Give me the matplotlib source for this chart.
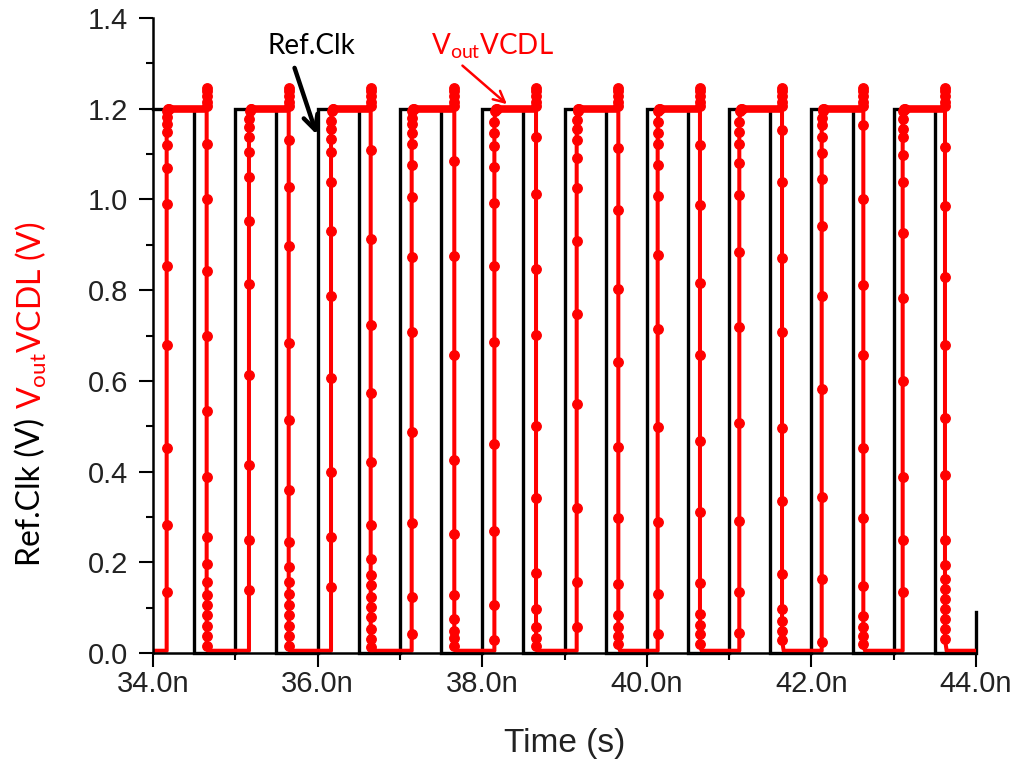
import matplotlib
matplotlib.use('Agg')
import matplotlib.pyplot as plt
from matplotlib.ticker import MultipleLocator, FuncFormatter

# ---------------- data ----------------
# Ref.Clk square wave (ns, V)
clk_fall = [34.5, 35.5, 36.5, 37.5, 38.5, 39.5, 40.5, 41.5, 42.5, 43.5]
clk_rise = [35.0, 36.0, 37.0, 38.0, 39.0, 40.0, 41.0, 42.0, 43.0, 44.0]
clk_high = 1.2
clk_last_level = 0.09     # partial rise visible at 44.0n

# VCDL output: edge times (ns)
red_rise = [34.166, 35.166, 36.163, 37.143, 38.148, 39.148, 40.132, 41.124, 42.125, 43.109]
red_fall = [34.652, 35.649, 36.645, 37.661, 38.654, 39.654, 40.646, 41.643, 42.631, 43.623]
red_high = 1.2
red_low = 0.005
overshoot = [1.205, 1.215, 1.228, 1.238, 1.245]

# sampled points along each rising edge (V)
rise_samples = [
    [0.134, 0.282, 0.451, 0.680, 0.853, 0.990, 1.069, 1.119, 1.148, 1.167, 1.182],
    [0.138, 0.249, 0.415, 0.614, 0.813, 0.953, 1.049, 1.104, 1.137, 1.160, 1.178],
    [0.145, 0.256, 0.400, 0.606, 0.787, 0.931, 1.038, 1.104, 1.134, 1.156, 1.174],
    [0.041, 0.123, 0.287, 0.487, 0.708, 0.872, 1.006, 1.077, 1.122, 1.147, 1.167, 1.180],
    [0.029, 0.106, 0.270, 0.461, 0.686, 0.854, 0.993, 1.071, 1.118, 1.147, 1.171],
    [0.057, 0.156, 0.319, 0.549, 0.747, 0.909, 1.025, 1.091, 1.130, 1.155, 1.175],
    [0.041, 0.129, 0.289, 0.498, 0.714, 0.878, 1.007, 1.077, 1.122, 1.147, 1.171],
    [0.043, 0.135, 0.292, 0.508, 0.718, 0.883, 1.009, 1.080, 1.122, 1.149, 1.171],
    [0.025, 0.164, 0.344, 0.583, 0.786, 0.942, 1.044, 1.102, 1.138, 1.163, 1.179],
    [0.134, 0.249, 0.389, 0.599, 0.783, 0.927, 1.038, 1.097, 1.137, 1.156, 1.178],
]
# sampled points along each falling edge (V)
fall_samples = [
    [1.122, 1.001, 0.842, 0.698, 0.533, 0.389, 0.256, 0.197, 0.156, 0.127, 0.105, 0.083, 0.060, 0.038, 0.016],
    [1.130, 1.027, 0.898, 0.684, 0.514, 0.359, 0.245, 0.190, 0.156, 0.131, 0.105, 0.083, 0.060, 0.038, 0.016],
    [1.108, 0.912, 0.724, 0.573, 0.422, 0.282, 0.208, 0.171, 0.149, 0.123, 0.101, 0.079, 0.053, 0.031, 0.013],
    [1.085, 0.875, 0.657, 0.426, 0.262, 0.127, 0.074, 0.049, 0.033, 0.016],
    [1.137, 1.013, 0.846, 0.702, 0.500, 0.342, 0.176, 0.098, 0.057, 0.033, 0.016],
    [1.114, 0.977, 0.803, 0.641, 0.455, 0.297, 0.152, 0.084, 0.057, 0.037, 0.020],
    [1.120, 0.987, 0.815, 0.657, 0.467, 0.310, 0.154, 0.086, 0.061, 0.041, 0.020],
    [1.152, 1.038, 0.871, 0.708, 0.496, 0.336, 0.174, 0.097, 0.070, 0.049, 0.029],
    [1.165, 1.002, 0.811, 0.657, 0.452, 0.297, 0.147, 0.082, 0.057, 0.037, 0.020],
    [1.115, 0.986, 0.828, 0.680, 0.518, 0.392, 0.249, 0.193, 0.164, 0.142, 0.119, 0.097, 0.075, 0.053, 0.031],
]

x_ticks = [34.0, 36.0, 38.0, 40.0, 42.0, 44.0]
y_ticks = [0.0, 0.2, 0.4, 0.6, 0.8, 1.0, 1.2, 1.4]

# ---------------- figure ----------------
W, H = 1023, 763
plt.rcParams['mathtext.fontset'] = 'custom'
plt.rcParams['mathtext.rm'] = 'Lato'
plt.rcParams['mathtext.it'] = 'Lato:italic'

fig = plt.figure(figsize=(W / 100, H / 100), dpi=100)
ax = fig.add_axes([153 / W, 1 - 653 / H, (976 - 153) / W, (653 - 18) / H])

# black clock
cx, cy = [34.0], [clk_high]
for f, r in zip(clk_fall, clk_rise):
    cx += [f, f, r]
    cy += [clk_high, 0.0, 0.0]
    if r < 44.0:
        cx += [r]
        cy += [clk_high]
cx += [clk_rise[-1]]
cy += [clk_last_level]
ax.plot(cx, cy, color='black', lw=2.4, solid_joinstyle='miter', zorder=2, clip_on=False)

# red VCDL output
red = '#ff0000'
rx, ry = [34.0], [red_low]
mx, my = [], []
for i in range(len(red_rise)):
    r, f = red_rise[i], red_fall[i]
    rx += [r]
    ry += [red_low]
    for v in rise_samples[i]:
        rx.append(r); ry.append(v)
        mx.append(r); my.append(v)
    rx += [r + 0.01, r + 0.04]
    ry += [1.195, red_high]
    mx += [r + 0.01, r + 0.02, r + 0.03]
    my += [1.195, 1.2, 1.2]
    # thick top flat (densely sampled)
    ax.plot([r + 0.03, f], [red_high, red_high], color=red, lw=5.5,
            solid_capstyle='butt', zorder=3)
    rx += [f]
    ry += [red_high]
    for v in overshoot:
        rx.append(f); ry.append(v)
        mx.append(f); my.append(v)
    for v in fall_samples[i]:
        rx.append(f); ry.append(v)
        mx.append(f); my.append(v)
    rx += [f + 0.02]
    ry += [red_low]
rx += [44.0]
ry += [red_low]
ax.plot(rx, ry, color=red, lw=2.9, zorder=3)
ax.plot(mx, my, linestyle='none', marker='o', ms=6.8, color=red, mec=red, zorder=4)

# axes styling
ax.set_xlim(34.0, 44.0)
ax.set_ylim(0.0, 1.4)
for s in ['top', 'right']:
    ax.spines[s].set_visible(False)
for s in ['left', 'bottom']:
    ax.spines[s].set_linewidth(1.8)
    ax.spines[s].set_zorder(5)
ax.set_xticks(x_ticks)
ax.set_yticks(y_ticks)
ax.xaxis.set_minor_locator(MultipleLocator(1.0))
ax.yaxis.set_minor_locator(MultipleLocator(0.1))
ax.xaxis.set_major_formatter(FuncFormatter(lambda v, p: f'{v:.1f}n'))
ax.yaxis.set_major_formatter(FuncFormatter(lambda v, p: f'{v:.1f}'))
ax.tick_params(which='major', direction='out', length=10, width=1.5, color='black',
               labelsize=21, labelcolor='#222222')
ax.tick_params(which='minor', direction='out', length=5, width=1.5, color='black')
ax.tick_params(axis='y', pad=8)
ax.tick_params(axis='x', pad=2)
for lab in ax.get_xticklabels() + ax.get_yticklabels():
    lab.set_fontfamily('Liberation Sans')

ax.set_xlabel('Time (s)', fontsize=24, family='Liberation Sans', color='#222222', labelpad=22)

# annotations
ax.text(35.93, 1.338, 'Ref.Clk', ha='center', va='center', fontsize=20,
        family='Lato', color='black')
ax.annotate('', xy=(35.99, 1.143), xytext=(35.72, 1.29),
            arrowprops=dict(arrowstyle='->', lw=3.2, color='black', mutation_scale=26,
                            shrinkA=0, shrinkB=0))
ax.text(38.12, 1.338, r'V$_{\mathrm{out}}$VCDL', ha='center', va='center', fontsize=20,
        family='Lato', color=red)
ax.annotate('', xy=(38.30, 1.21), xytext=(37.76, 1.295),
            arrowprops=dict(arrowstyle='->', lw=1.8, color=red, mutation_scale=20,
                            shrinkA=0, shrinkB=0))

# two-colour y label
t1 = fig.text(31 / W, 1 - 566 / H, 'Ref.Clk (V)', rotation=90, ha='center', va='bottom',
              fontsize=23, family='Lato', color='black')
fig.canvas.draw()
bb = t1.get_window_extent()
fig.text(31 / W, (bb.y1 + 9) / H, r'V$_{\mathrm{out}}$VCDL (V)', rotation=90,
         ha='center', va='bottom', fontsize=23, family='Lato', color=red)

fig.savefig('out.png', dpi=100)
